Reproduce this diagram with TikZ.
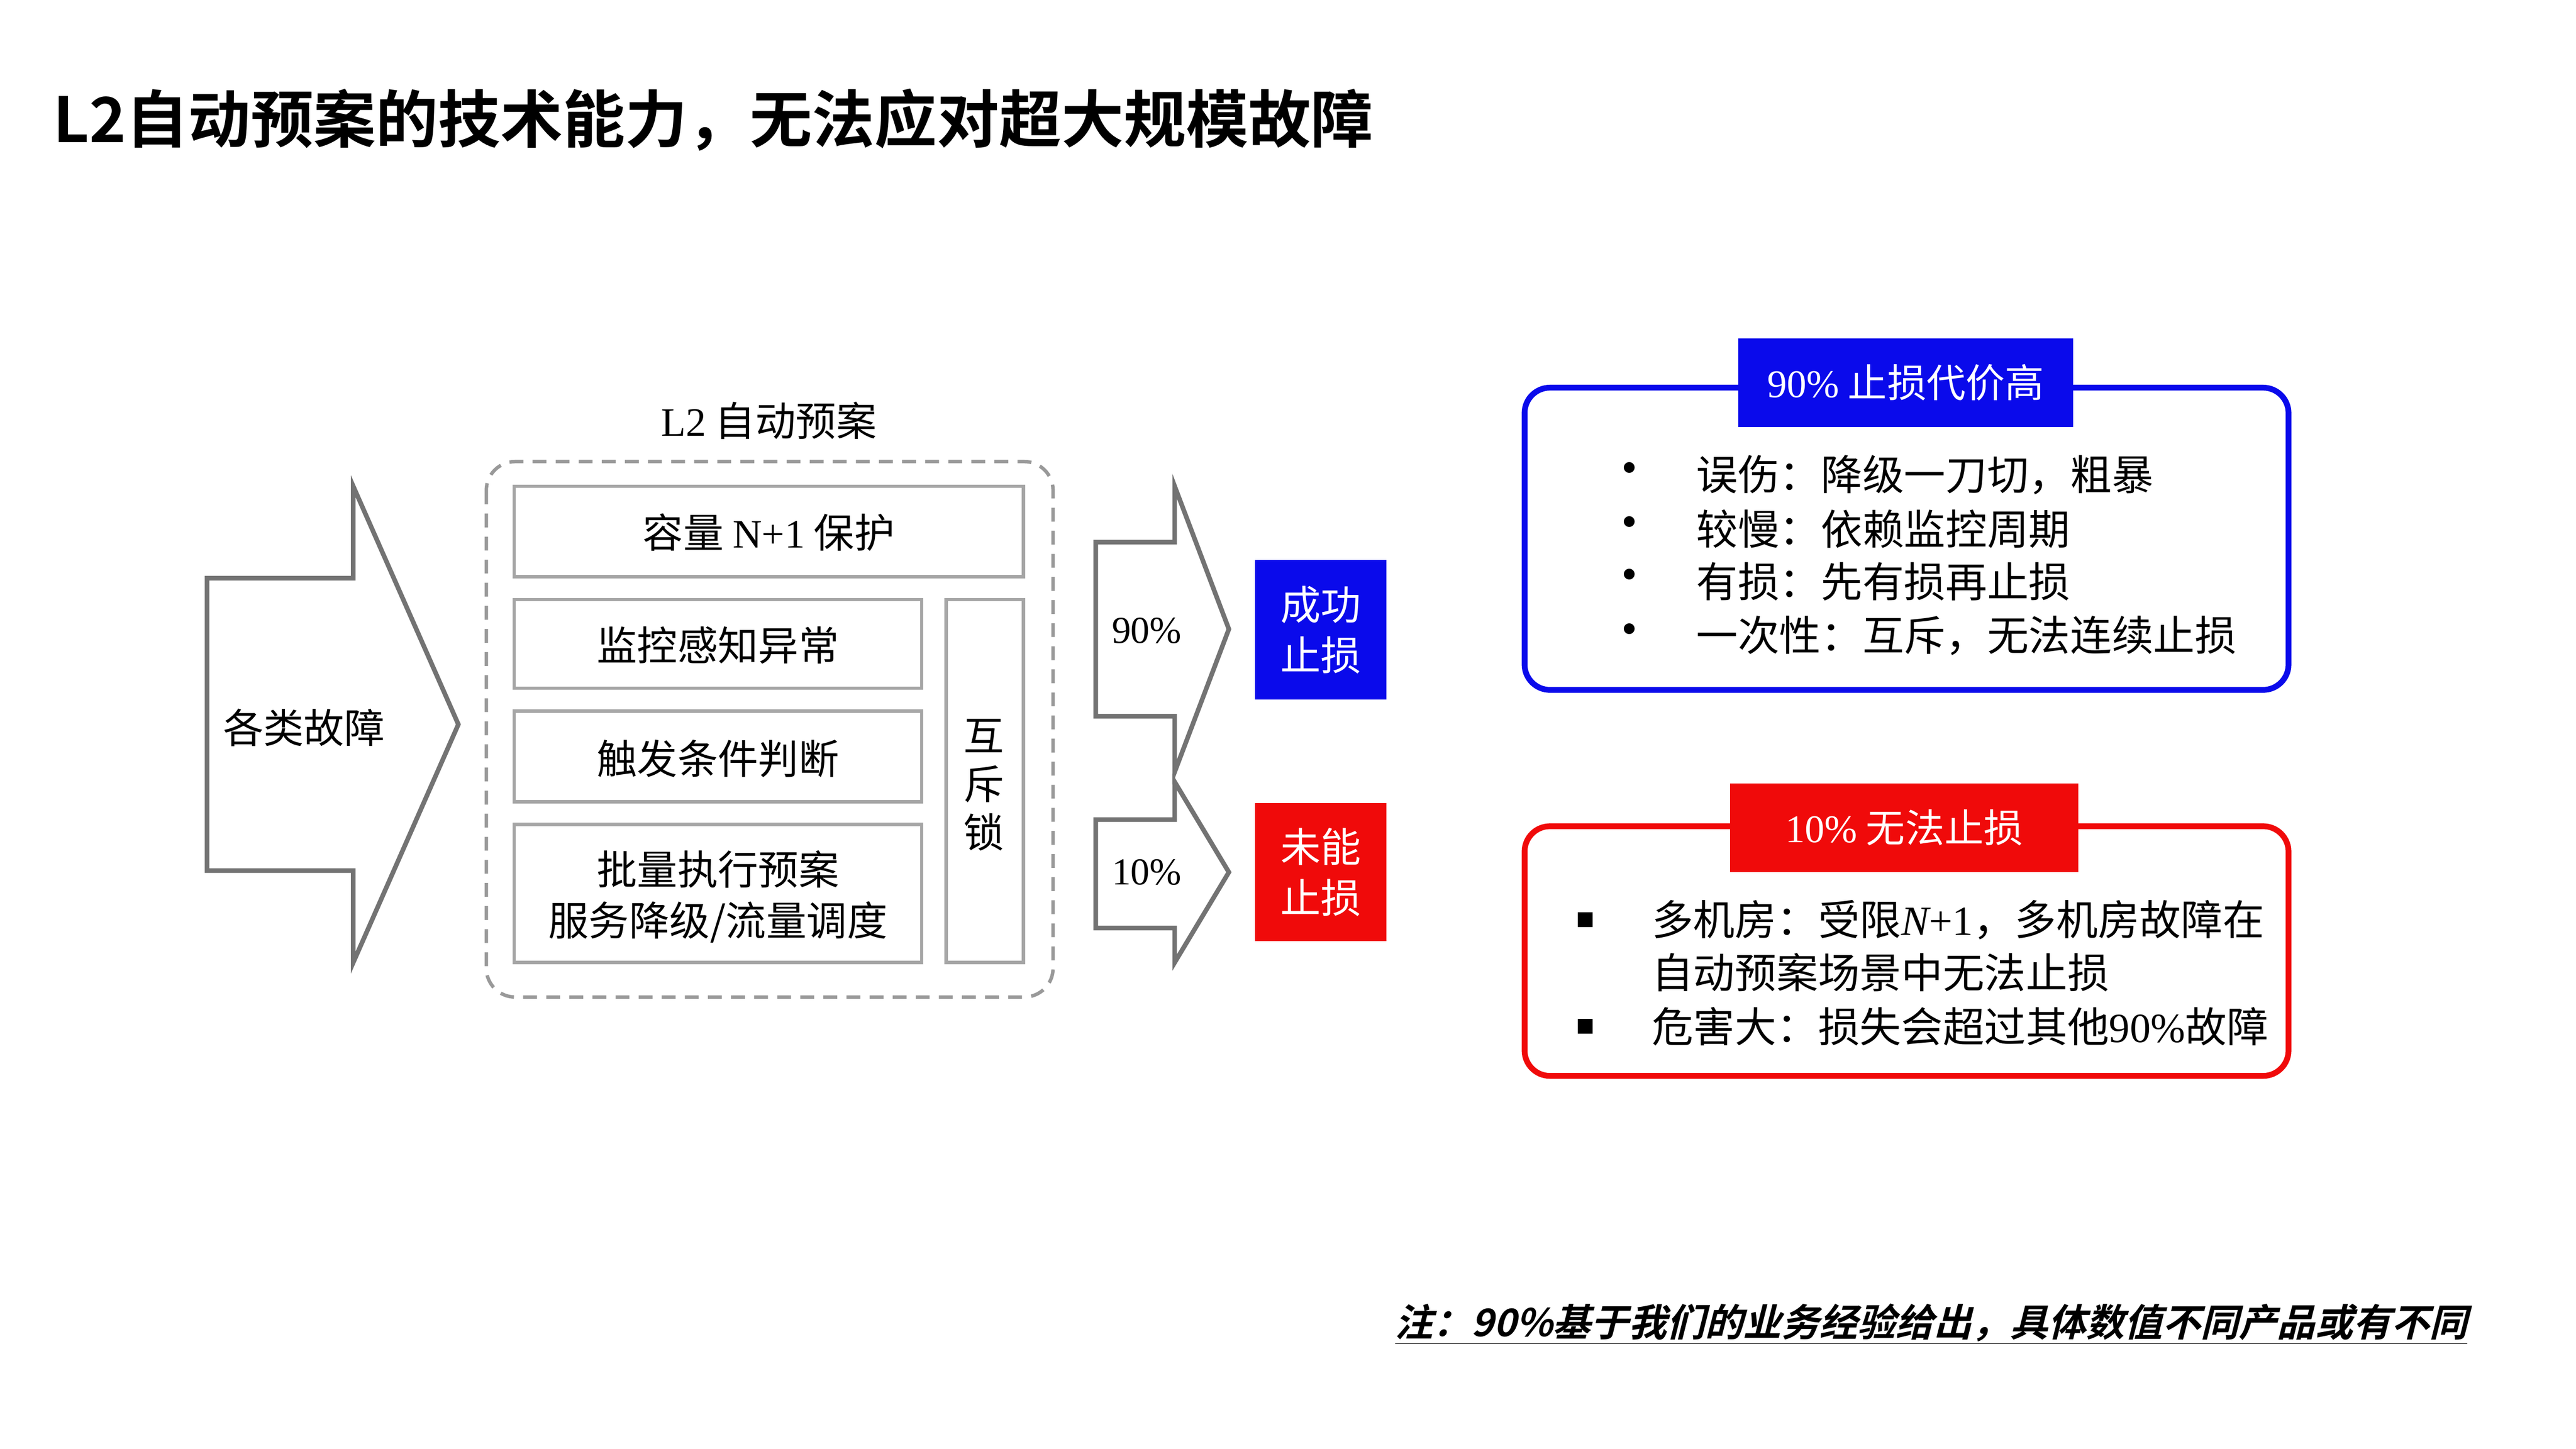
\documentclass[tikz,border=0pt]{standalone}
\usepackage{fontspec}
\setmainfont{Noto Sans CJK SC}
\newfontfamily\cjkb{Noto Sans CJK SC Bold}
\newfontfamily\cjkbi[FakeSlant=0.25]{Noto Sans CJK SC Bold}
\newfontfamily\lser{Liberation Serif}
\newfontfamily\lseri{Liberation Serif Italic}
\begin{document}
\begin{tikzpicture}[x=0.05cm,y=-0.05cm,
  gbox/.style={draw=gray!70,line width=3pt},
  garrow/.style={draw=gray!90!black,line width=4pt,line join=miter,fill=white},
  txt/.style={font=\fontsize{35}{44}\selectfont,align=center},
  rtxt/.style={font=\fontsize{36}{46}\selectfont,anchor=west},
  panel/.style={line width=5pt,rounded corners=22pt,fill=white}]
\useasboundingbox (0,0) rectangle (1568,882);
\definecolor{myblue}{RGB}{10,10,235}
\definecolor{myred}{RGB}{240,10,10}
% title
\node[anchor=west,font=\cjkb\fontsize{54}{60}\selectfont] (title) at (30,73) {L2自动预案的技术能力，无法应对超大规模故障};
% left big arrow
\draw[garrow] (126,352) -- (215,352) -- (215,296) -- (279,441) -- (215,586) -- (215,530) -- (126,530) -- cycle;
\node[txt] (faults) at (185,443) {各类故障};
% L2 group
\node[txt] (l2) at (468,256) {{\lser L2} 自动预案};
\draw[gray!80,line width=3pt,dashed,dash pattern=on 12pt off 8pt,rounded corners=25pt] (296,281) rectangle (641,607);
\draw[gbox] (313,296) rectangle (623,351);
\node[txt] (cap) at (468,324) {容量 {\lser N+1} 保护};
\draw[gbox] (313,365) rectangle (561,419);
\node[txt] (mon) at (437,393) {监控感知异常};
\draw[gbox] (313,433) rectangle (561,488);
\node[txt] (trig) at (437,462) {触发条件判断};
\draw[gbox] (313,502) rectangle (561,586);
\node[txt] (exec) at (437,546) {批量执行预案\\服务降级/流量调度};
\draw[gbox] (576,365) rectangle (623,586);
\node[txt] (lock) at (599,478) {互\\[-2pt]斥\\[-2pt]锁};
% small arrows
\draw[garrow] (667,330) -- (715,330) -- (715,296) -- (748,383) -- (715,470) -- (715,436) -- (667,436) -- cycle;
\node[txt,font=\lser\fontsize{33}{40}\selectfont] (p90) at (698,384) {90\%};
\draw[garrow] (667,499) -- (715,499) -- (715,476) -- (748,531) -- (715,586) -- (715,565) -- (667,565) -- cycle;
\node[txt,font=\lser\fontsize{33}{40}\selectfont] (p10) at (698,531) {10\%};
% result boxes
\node[fill=myblue,minimum width=80*0.05cm,minimum height=85*0.05cm,txt,text=white,inner sep=0pt] (succ) at (804,383.5) {成功\\止损};
\node[fill=myred,minimum width=80*0.05cm,minimum height=84*0.05cm,txt,text=white,inner sep=0pt] (fail) at (804,531) {未能\\止损};
% blue panel
\draw[panel,draw=myblue] (928,236) rectangle (1393,420);
\node[fill=myblue,minimum width=204*0.05cm,minimum height=54*0.05cm,inner sep=0pt,text=white,font=\fontsize{34}{40}\selectfont] (bt) at (1160,233) {{\lser 90\%} 止损代价高};
\foreach \y/\t in {289/误伤：降级一刀切，粗暴,322/较慢：依赖监控周期,354/有损：先有损再止损,387/一次性：互斥，无法连续止损}{
  \node[font=\fontsize{44}{40}\selectfont] at (992,\y) {•};
  \node[rtxt] at (1030,\y) {\t};
}
% red panel
\draw[panel,draw=myred] (928,503) rectangle (1393,655);
\node[fill=myred,minimum width=212*0.05cm,minimum height=54*0.05cm,inner sep=0pt,text=white,font=\fontsize{34}{40}\selectfont] (rt) at (1159,504) {{\lser 10\%} 无法止损};
\node[font=\fontsize{16}{30}\selectfont] at (965,560) {■};
\node[rtxt] (r1) at (1003,560) {多机房：受限{\lseri N}{\lser +1}，多机房故障在};
\node[rtxt] (r2) at (1003,592) {自动预案场景中无法止损};
\node[font=\fontsize{16}{30}\selectfont] at (965,625) {■};
\node[rtxt] (r3) at (1003,625) {危害大：损失会超过其他{\lser 90\%}故障};
% note
\node[anchor=east,font=\cjkbi\fontsize{33}{38}\selectfont,inner sep=0pt] (note) at (1502,806) {\underline{注：90\%基于我们的业务经验给出，具体数值不同产品或有不同}};
\end{tikzpicture}
\end{document}
